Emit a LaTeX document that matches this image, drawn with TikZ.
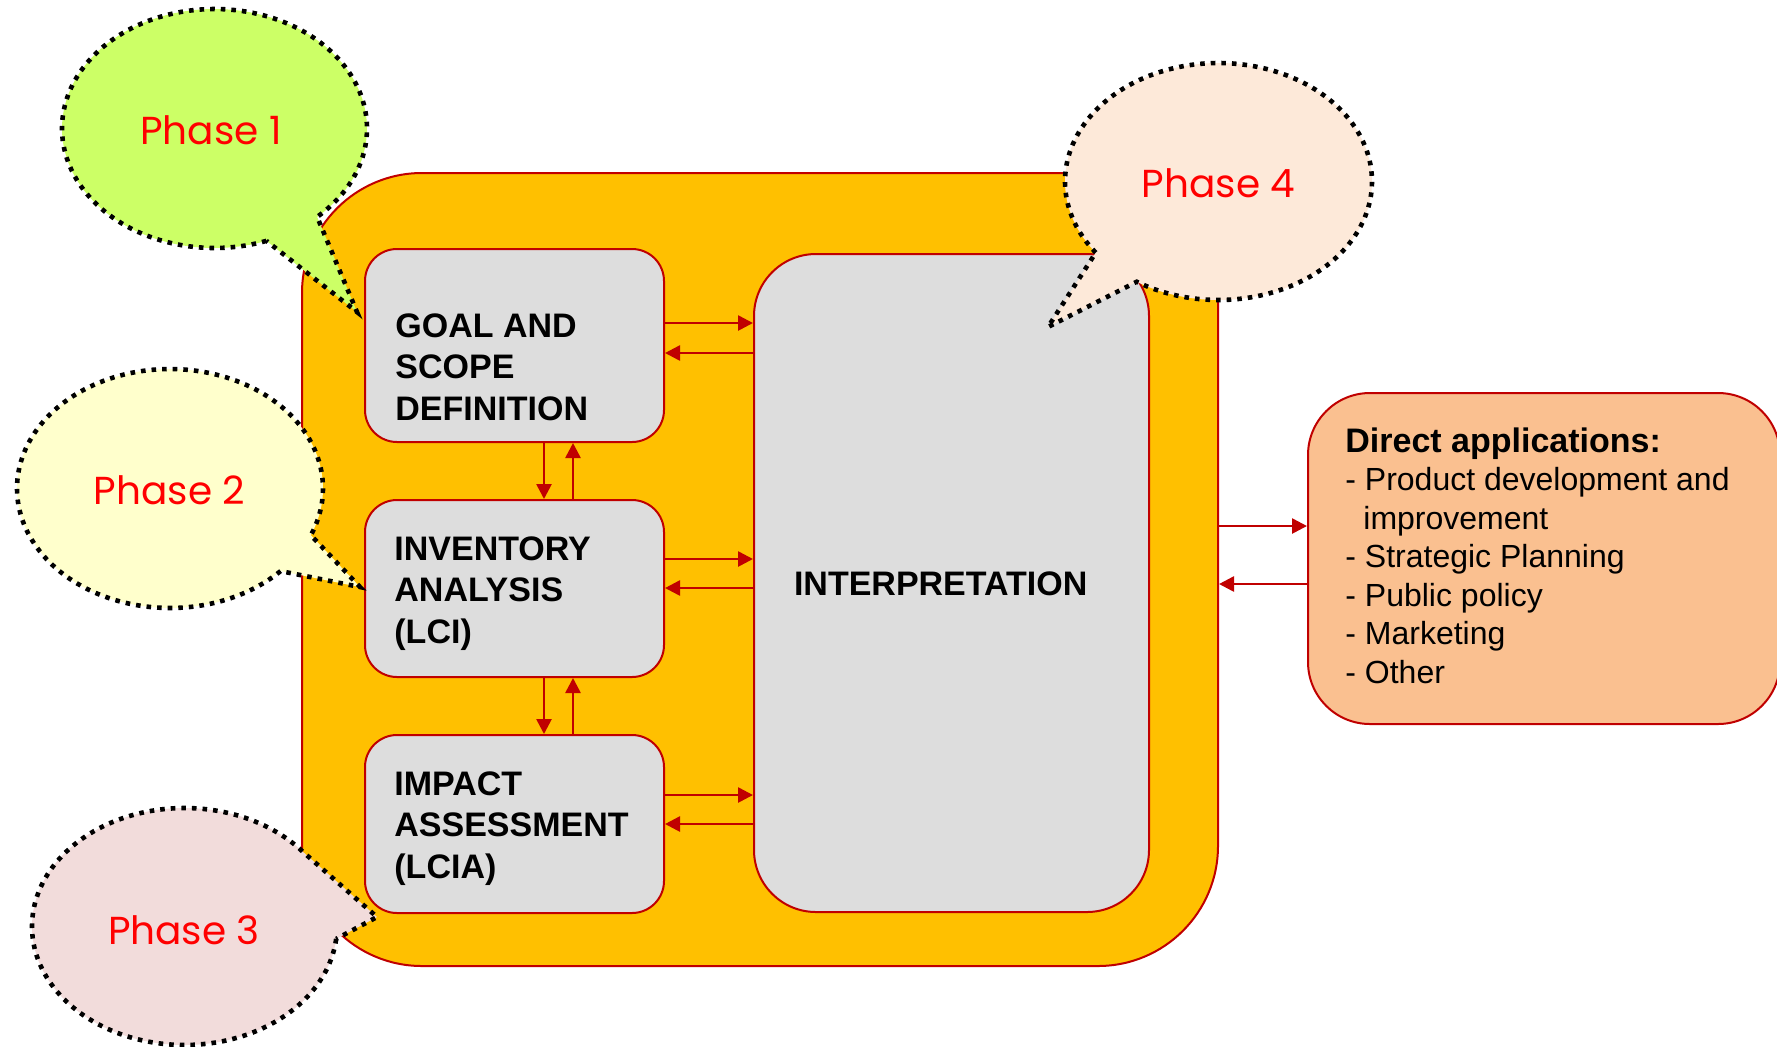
\documentclass[tikz,border=0pt]{standalone}
\usepackage{fontspec}
\setmainfont{Liberation Sans}
\newfontfamily\phasefont{Poppins}
\usetikzlibrary{arrows.meta}

\definecolor{lcaorange}{HTML}{FFC000}
\definecolor{lcared}{HTML}{C00000}
\definecolor{lcagray}{HTML}{DDDDDD}
\definecolor{appfill}{HTML}{FAC090}
\definecolor{phaseone}{HTML}{CCFF66}
\definecolor{phasetwo}{HTML}{FFFFCC}
\definecolor{phasethree}{HTML}{F2DCDB}
\definecolor{phasefour}{HTML}{FDE9D9}
\definecolor{phasered}{HTML}{FF0000}

\begin{document}
\begin{tikzpicture}[x=0.5pt,y=-0.5pt,
  stagebox/.style={draw=lcared, line width=1pt, fill=lcagray, rounded corners=16pt, inner sep=0pt},
  boxtext/.style={font=\bfseries\fontsize{17}{20.75}\selectfont, align=left, inner sep=0pt},
  arr/.style={draw=lcared, line width=1.3pt, -{Triangle[length=7.5pt,width=7.5pt]}},
  bubble/.style={draw=black, line width=2.3pt, dash pattern=on 2.3pt off 3pt},
  phasetext/.style={font=\phasefont\fontsize{19.5}{24}\selectfont, text=phasered, inner sep=0pt}
]
\useasboundingbox (0,0) rectangle (1777,1046);

% frame holding the four stages
\node[draw=lcared, line width=1pt, fill=lcaorange, rounded corners=60pt,
      minimum width=458pt, minimum height=396.5pt, inner sep=0pt] (outer) at (760,569.5) {};

% stage boxes
\node[stagebox, minimum width=149.5pt, minimum height=96.5pt] (goal) at (514.5,345.5) {};
\node[stagebox, minimum width=149.5pt, minimum height=88.5pt] (inv) at (514.5,588.5) {};
\node[stagebox, minimum width=149.5pt, minimum height=89pt] (impact) at (514.5,824) {};
\node[stagebox, rounded corners=31pt, minimum width=197.5pt, minimum height=329pt] (interp) at (951.5,583) {};

% labels are placed by the baseline of their last line
\node[boxtext, anchor=base west] (goaltext) at (395,420) {GOAL AND\\SCOPE\\DEFINITION};
\node[boxtext, anchor=base west] (invtext) at (394,643) {INVENTORY\\ANALYSIS\\(LCI)};
\node[boxtext, anchor=base west] (impacttext) at (394,878) {IMPACT\\ASSESSMENT\\(LCIA)};
\node[boxtext] (interptext) at (940.7,584) {INTERPRETATION};

% applications box
\node[draw=lcared, line width=1pt, fill=appfill, rounded corners=31pt,
      minimum width=236pt, minimum height=165.5pt, inner sep=0pt] (direct) at (1544,558.5) {};
\node[anchor=base west, align=left, inner sep=0pt, font=\fontsize{16}{19.25}\selectfont] (directtext) at (1345,683)
  {{\bfseries\fontsize{17}{19.25}\selectfont Direct applications:}\\
   - Product development and\\
   \hspace*{9pt}improvement\\
   - Strategic Planning\\
   - Public policy\\
   - Marketing\\
   - Other};

% links between stages
\draw[arr] (goal.east |- 0,323) -- (interp.west |- 0,323);
\draw[arr] (interp.west |- 0,353) -- (goal.east |- 0,353);
\draw[arr] (inv.east |- 0,559) -- (interp.west |- 0,559);
\draw[arr] (interp.west |- 0,588) -- (inv.east |- 0,588);
\draw[arr] (impact.east |- 0,795) -- (interp.west |- 0,795);
\draw[arr] (interp.west |- 0,824) -- (impact.east |- 0,824);

\draw[arr] (goal.south -| 544,0) -- (inv.north -| 544,0);
\draw[arr] (inv.north -| 573,0) -- (goal.south -| 573,0);
\draw[arr] (inv.south -| 544,0) -- (impact.north -| 544,0);
\draw[arr] (impact.north -| 573,0) -- (inv.south -| 573,0);

\draw[arr] (outer.east |- 0,526) -- (direct.west |- 0,526);
\draw[arr] (direct.west |- 0,584) -- (outer.east |- 0,584);

% speech bubbles
\draw[bubble, fill=phaseone] plot[domain=70.1:407.7, samples=160, variable=\t]
  ({214.5+152.5*cos(\t)},{128.5+119.5*sin(\t)}) -- (357,312) -- cycle;
\draw[bubble, fill=phasetwo] plot[domain=43.7:383, samples=160, variable=\t]
  ({170+153*cos(\t)},{488.5+119.5*sin(\t)}) -- (360,587) -- cycle;
\draw[bubble, fill=phasethree] plot[domain=6:320.7, samples=160, variable=\t]
  ({184.5+152.5*cos(\t)},{926.5+118.5*sin(\t)}) -- (377,917) -- cycle;
\draw[bubble, fill=phasefour] plot[domain=143.1:482.2, samples=160, variable=\t]
  ({1218.5+153.5*cos(\t)},{181.5+118.5*sin(\t)}) -- (1048,327) -- cycle;

\node[phasetext] (ph1) at (211,130) {Phase 1};
\node[phasetext] (ph2) at (169.5,490) {Phase 2};
\node[phasetext] (ph3) at (184,930) {Phase 3};
\node[phasetext] (ph4) at (1218.5,183) {Phase 4};
\end{tikzpicture}
\end{document}
